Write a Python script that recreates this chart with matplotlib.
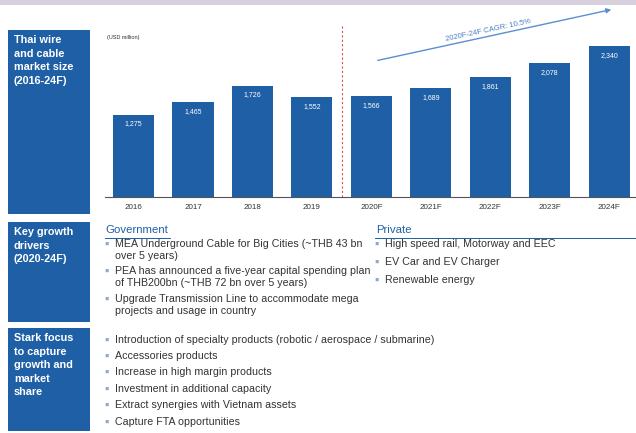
import matplotlib
matplotlib.use("Agg")
import matplotlib.pyplot as plt
from matplotlib.patches import Rectangle, FancyArrowPatch

plt.rcParams['font.family'] = ['Liberation Sans', 'DejaVu Sans']

# Market size, USD million
years = ['2016', '2017', '2018', '2019', '2020F', '2021F', '2022F', '2023F', '2024F']
market_size = [1275, 1465, 1726, 1552, 1566, 1689, 1861, 2078, 2340]
cagr_label = '2020F-24F CAGR: 10.5%'
unit_label = '(USD million)'

side_titles = ['Thai wire\nand cable\nmarket size\n(2016-24F)',
               'Key growth\ndrivers\n(2020-24F)',
               'Stark focus\nto capture\ngrowth and\nmarket\nshare']
gov_items = ['MEA Underground Cable for Big Cities (~THB 43 bn\nover 5 years)',
             'PEA has announced a five-year capital spending plan\nof THB200bn (~THB 72 bn over 5 years)',
             'Upgrade Transmission Line to accommodate mega\nprojects and usage in country']
private_items = ['High speed rail, Motorway and EEC',
                 'EV Car and EV Charger',
                 'Renewable energy']
focus_items = ['Introduction of specialty products (robotic / aerospace / submarine)',
               'Accessories products',
               'Increase in high margin products',
               'Investment in additional capacity',
               'Extract synergies with Vietnam assets',
               'Capture FTA opportunities']

W, H = 636, 433
BLUE = '#1f5fa6'
BULLET = '#8fa9c9'
TEXT = '#333333'


def px(x, y):
    return x / W, 1 - y / H


fig = plt.figure(figsize=(W / 100, H / 100), dpi=100)

# top band
fig.patches.append(Rectangle(px(0, 5), 1, 5 / H, transform=fig.transFigure,
                             facecolor='#d6d1dc', edgecolor='none'))

# left blue boxes
boxes = [(30, 214), (222, 322), (328, 431)]
for (y0, y1), title in zip(boxes, side_titles):
    fig.patches.append(Rectangle(px(8, y1), 82 / W, (y1 - y0) / H,
                                 transform=fig.transFigure,
                                 facecolor=BLUE, edgecolor='none'))
    fig.text(*px(14, y0 + 5), title, color='white', fontsize=7.8,
             fontweight='bold', va='top', ha='left', linespacing=1.45)

# bar chart
ax = fig.add_axes([105 / W, 1 - 197 / H, (W - 105) / W, (197 - 25) / H])
xs = range(len(years))
bars = ax.bar(xs, market_size, width=0.69, color=BLUE, zorder=2)
for b, v in zip(bars, market_size):
    ax.text(b.get_x() + b.get_width() / 2, v - 90, f'{v:,}',
            color='white', fontsize=5, ha='center', va='top')
ax.set_xlim(-0.48, 8.45)
ax.set_ylim(0, 2665)
ax.set_xticks(list(xs))
ax.set_xticklabels(years, fontsize=5.8, color=TEXT)
ax.tick_params(axis='x', length=0, pad=5)
ax.set_yticks([])
for s in ['top', 'right', 'left']:
    ax.spines[s].set_visible(False)
ax.spines['bottom'].set_color('#555555')
ax.spines['bottom'].set_linewidth(0.8)
ax.axvline(3.5, color='#d9534f', linestyle=(0, (2, 2)), linewidth=0.8)

fig.text(*px(107, 37), unit_label, fontsize=4, color=TEXT, va='center')

# CAGR arrow
fig.add_artist(FancyArrowPatch(
    px(375, 61), px(614, 9), transform=fig.transFigure,
    arrowstyle='-|>', mutation_scale=7, color='#5b8fcf', linewidth=1.0))
fig.text(*px(488, 30), cagr_label, fontsize=5.5, color='#4a7fc0',
         rotation=12, ha='center', va='center')

# growth drivers
fig.text(*px(105, 230), 'Government', fontsize=8.2, color=BLUE, va='center')
fig.text(*px(376, 230), 'Private', fontsize=8.2, color=BLUE, va='center')
fig.add_artist(plt.Line2D([105 / W, 170 / W], [px(0, 237.5)[1]] * 2,
                          color=BLUE, linewidth=0.7))
fig.add_artist(plt.Line2D([375 / W, 636 / W], [px(0, 237.5)[1]] * 2,
                          color=BLUE, linewidth=0.7))


def bullet_list(x, ys, items):
    for y, item in zip(ys, items):
        fig.text(*px(x - 1, y), '\u25aa', fontsize=9, color=BULLET, va='top')
        fig.text(*px(x + 10, y), item, fontsize=7.7, color=TEXT, va='top',
                 linespacing=1.2)


bullet_list(105, [239, 266, 294], gov_items)
bullet_list(375, [239, 257, 275], private_items)
bullet_list(105, [335, 351, 367, 384, 400, 417], focus_items)

fig.savefig('out.png', dpi=100)
